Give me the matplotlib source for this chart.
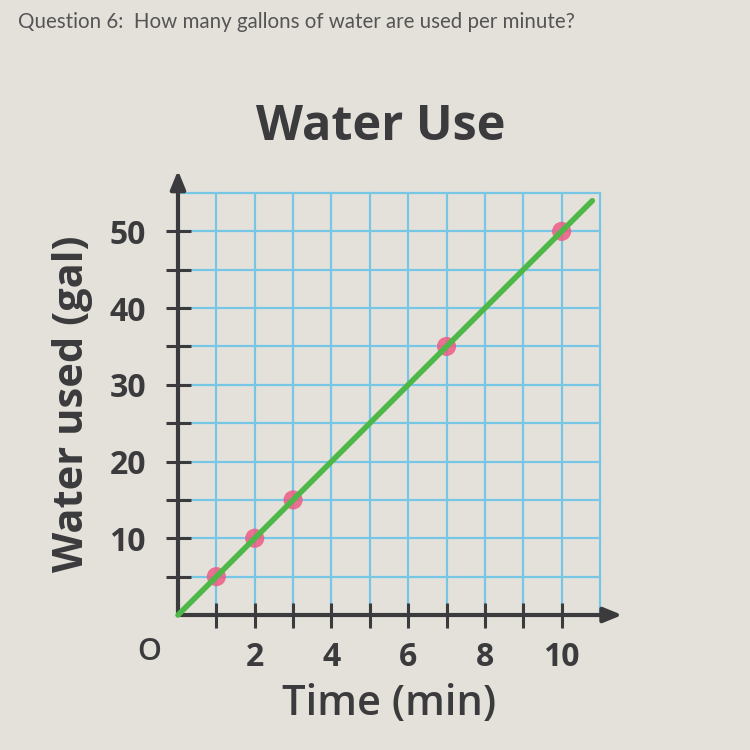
import matplotlib
matplotlib.use("Agg")
import matplotlib.pyplot as plt

# Data
time_min = [1, 2, 3, 7, 10]
water_gal = [5, 10, 15, 35, 50]
line_x = [0, 10.8]
line_y = [0, 54]
x_ticks = [1, 2, 3, 4, 5, 6, 7, 8, 9, 10]
x_labels = ["", "2", "", "4", "", "6", "", "8", "", "10"]
y_ticks = [5, 10, 15, 20, 25, 30, 35, 40, 45, 50]
y_labels = ["", "10", "", "20", "", "30", "", "40", "", "50"]

bg = "#e4e1da"
dark = "#3b3b3d"
grid_c = "#78c6e6"

fig = plt.figure(figsize=(7.5, 7.5), dpi=100, facecolor=bg)
ax = fig.add_axes([178/750, 135/750, 422/750, 422/750])
ax.set_facecolor(bg)
ax.set_xlim(0, 11)
ax.set_ylim(0, 55)

# grid
for gx in range(1, 12):
    ax.plot([gx, gx], [0, 55], color=grid_c, lw=1.6, zorder=1, clip_on=False)
for gy in range(5, 60, 5):
    ax.plot([0, 11], [gy, gy], color=grid_c, lw=1.6, zorder=1, clip_on=False)

for s in ax.spines.values():
    s.set_visible(False)

# axes with arrows
ax.annotate("", xy=(11.65, 0), xytext=(0, 0),
            arrowprops=dict(arrowstyle="-|>,head_length=1.1,head_width=0.45", color=dark, lw=3),
            annotation_clip=False, zorder=3)
ax.annotate("", xy=(0, 58.3), xytext=(0, 0),
            arrowprops=dict(arrowstyle="-|>,head_length=1.1,head_width=0.45", color=dark, lw=3),
            annotation_clip=False, zorder=3)

ax.set_xticks(x_ticks)
ax.set_xticklabels(x_labels)
ax.set_yticks(y_ticks)
ax.set_yticklabels(y_labels)
ax.tick_params(axis="both", direction="inout", length=18, width=2.2, color=dark,
               labelsize=23, labelcolor=dark)
ax.tick_params(axis="x", pad=10)
ax.tick_params(axis="y", pad=14)
for lab in ax.get_xticklabels() + ax.get_yticklabels():
    lab.set_family("Open Sans")
    lab.set_fontweight("bold")

# line and points
ax.plot(line_x, line_y, color="#4db848", lw=4, solid_capstyle="round", zorder=4, clip_on=False)
ax.scatter(time_min, water_gal, s=190, color="#ec5b85", alpha=0.85, zorder=3, edgecolors="none", clip_on=False)

ax.text(-0.75, -4.8, "O", ha="center", va="center", fontsize=22, color=dark,
        family="Open Sans", fontweight="semibold")

ax.set_xlabel("Time (min)", fontsize=30, color=dark, family="Open Sans", fontweight="semibold", labelpad=6)
ax.set_ylabel("Water used (gal)", fontsize=30, color=dark, family="Open Sans", fontweight="bold", labelpad=12)

fig.text(381/750, 1 - 127/750, "Water Use", ha="center", va="center", fontsize=35,
         color=dark, family="Open Sans", fontweight="bold")
fig.text(18/750, 1 - 22/750, "Question 6:  How many gallons of water are used per minute?",
         ha="left", va="center", fontsize=14.8, color="#555555", family="Lato")

fig.savefig("out.png", dpi=100, facecolor=bg)
